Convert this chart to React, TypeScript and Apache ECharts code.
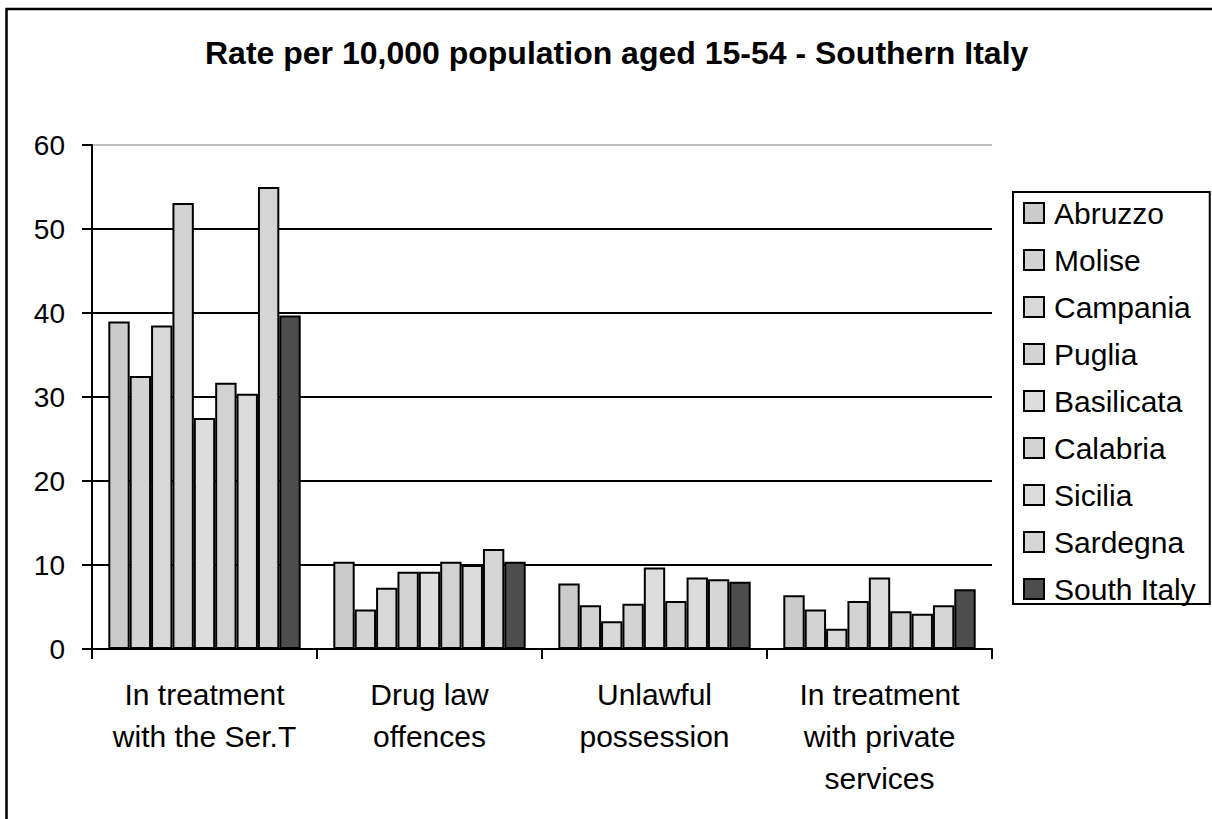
import React, { useEffect, useRef } from "react";
import * as echarts from "echarts";

const categories = [
  "In treatment\nwith the Ser.T",
  "Drug law\noffences",
  "Unlawful\npossession",
  "In treatment\nwith private\nservices",
];
const regions = ["Abruzzo", "Molise", "Campania", "Puglia", "Basilicata", "Calabria", "Sicilia", "Sardegna", "South Italy"];
const abruzzo = [39.0, 10.4, 7.8, 6.4];
const molise = [32.5, 4.7, 5.2, 4.7];
const campania = [38.5, 7.3, 3.3, 2.4];
const puglia = [53.1, 9.2, 5.4, 5.7];
const basilicata = [27.5, 9.2, 9.7, 8.5];
const calabria = [31.7, 10.4, 5.7, 4.5];
const sicilia = [30.4, 10.0, 8.5, 4.2];
const sardegna = [55.0, 11.9, 8.3, 5.2];
const southItaly = [39.7, 10.4, 8.0, 7.1];
const seriesValues = [abruzzo, molise, campania, puglia, basilicata, calabria, sicilia, sardegna, southItaly];
const colors = ["#cbcbcb", "#d3d3d3", "#d8d8d8", "#d3d3d3", "#dddddd", "#d2d2d2", "#dcdcdc", "#d5d5d5", "#4d4d4d"];
const yTicks = [0, 10, 20, 30, 40, 50, 60];

const FONT = "'Liberation Sans', Arial, sans-serif";

export default function App() {
  const ref = useRef<HTMLDivElement>(null);
  useEffect(() => {
    const chart = echarts.init(ref.current!, null, { renderer: "svg" });
    chart.setOption({
      animation: false,
      backgroundColor: "#fff",
      title: {
        text: "Rate per 10,000 population aged 15-54 - Southern Italy",
        left: 205,
        top: 37,
        padding: 0,
        textStyle: { fontFamily: FONT, fontSize: 32, fontWeight: "bold", color: "#000", lineHeight: 32 },
      },
      graphic: [
        {
          type: "rect",
          shape: { x: 6.5, y: 9, width: 1230, height: 830 },
          style: { fill: "none", stroke: "#000", lineWidth: 2.5 },
          silent: true,
        },
      ],
      legend: {
        orient: "vertical",
        left: 1013,
        top: 192,
        padding: [6, 14, 0, 10],
        borderColor: "#000",
        borderWidth: 2,
        itemWidth: 20,
        itemHeight: 20,
        itemGap: 17,
        icon: "rect",
        data: regions,
        textStyle: { fontFamily: FONT, fontSize: 30, color: "#000", padding: [0, 0, 0, 5] },
      },
      grid: { left: 92, top: 145, width: 900, height: 504, containLabel: false },
      xAxis: {
        type: "category",
        data: categories,
        axisLine: { lineStyle: { color: "#000", width: 2 } },
        axisTick: { show: true, length: 10, interval: 0, lineStyle: { color: "#000", width: 2 } },
        axisLabel: { interval: 0, fontFamily: FONT, fontSize: 30, lineHeight: 42, color: "#000", margin: 24 },
      },
      yAxis: {
        type: "value",
        min: yTicks[0],
        max: yTicks[yTicks.length - 1],
        interval: 10,
        axisLine: { show: true, lineStyle: { color: "#000", width: 2 } },
        axisTick: { show: true, length: 10, lineStyle: { color: "#000", width: 2 } },
        axisLabel: { fontFamily: FONT, fontSize: 28, color: "#000", margin: 27 },
        splitLine: {
          show: true,
          lineStyle: { color: ["#000", "#000", "#000", "#000", "#000", "#000", "#c0c0c0"], width: 2 },
        },
      },
      series: regions.map((name, i) => ({
        name,
        type: "bar",
        data: seriesValues[i],
        barGap: "0%",
        barCategoryGap: "14.5%",
        itemStyle: { color: colors[i], borderColor: "#000", borderWidth: 2 },
      })),
    });
    return () => chart.dispose();
  }, []);
  return (
    <div
      ref={ref}
      style={{ position: "absolute", left: 0, top: 0, width: 1212, height: 819 }}
    />
  );
}
